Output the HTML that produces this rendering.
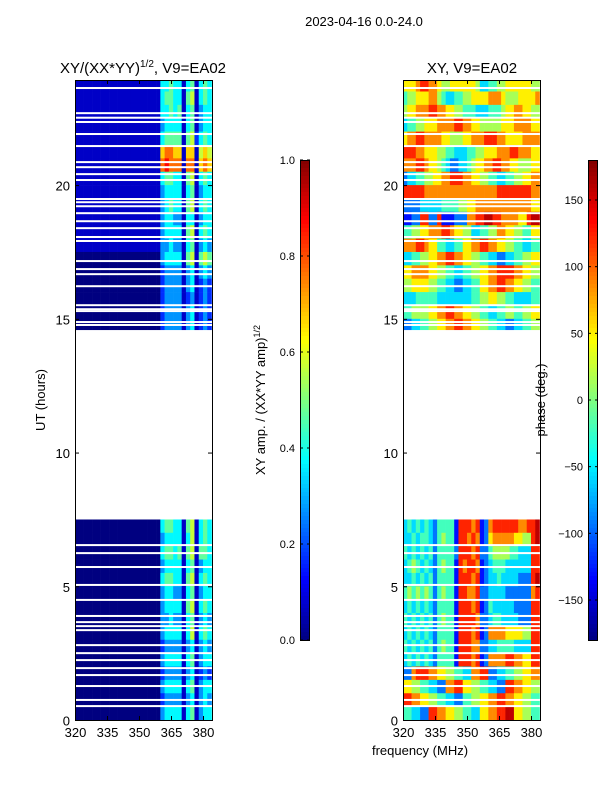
<!DOCTYPE html>
<html><head><meta charset="utf-8">
<style>
html,body{margin:0;padding:0;background:#fff;}
svg{display:block;font-family:"Liberation Sans",sans-serif;}
</style></head>
<body>
<svg id="fig" width="600" height="800" viewBox="0 0 600 800" xmlns="http://www.w3.org/2000/svg">
<g id="left"></g>
<g id="right"></g>
<g id="cb"></g>
<text x="364" y="26" font-size="13" text-anchor="middle">2023-04-16 0.0-24.0</text>
<text x="143" y="73" font-size="15" text-anchor="middle">XY/(XX*YY)<tspan font-size="10" dy="-6">1/2</tspan><tspan dy="6">, V9=EA02</tspan></text>
<text x="472" y="73" font-size="15" text-anchor="middle">XY, V9=EA02</text>
<text x="420" y="755" font-size="13" text-anchor="middle">frequency (MHz)</text>
<text transform="translate(45,400) rotate(-90)" font-size="13" text-anchor="middle">UT (hours)</text>
<text transform="translate(265,400) rotate(-90)" font-size="13" text-anchor="middle">XY amp. / (XX*YY amp)<tspan font-size="9" dy="-5">1/2</tspan></text>
<text transform="translate(545,400) rotate(-90)" font-size="13" text-anchor="middle">phase (deg.)</text>
</svg>
<script>
// ---- data ----
const freqStart = 320, freqStep = 2;
const xTicks = [320, 335, 350, 365, 380];
const yTicks = [0, 5, 10, 15, 20];
const ampTicks = [0.0, 0.2, 0.4, 0.6, 0.8, 1.0];
const phaseTicks = [-150, -100, -50, 0, 50, 100, 150];
const rowStep = 0.5;
const upperStart = 24.0;
const lowerStart = 7.5;
const ampUpper = [
"11111111111111111111445441451454",
"11111111111111111111455441561454",
"11111111111111111111445451451344",
"11111111111111111111344441451344",
"11111111111111111111455551562454",
"11111111111111111111788771771676",
"11111111111111111111898881881787",
"11111111111111111111455441561454",
"11111111111111111111344441451344",
"11111111111111111111345441561454",
"11111111111111111111344331441344",
"11111111111111111111344441561454",
"11111111111111111111334331451343",
"00000000000000000000344441561565",
"00000000000000000000233331341343",
"00000000000000000000233331341232",
"00000000000000000000233331231232",
"00000000000000000000233331341232",
"00000000000000000000233331341232"];
const ampLower = [
"00000000000000000000455441561454",
"00000000000000000000344441461454",
"00000000000000000000455451561554",
"00000000000000000000344441451344",
"00000000000000000000455441561454",
"00000000000000000000344331451344",
"00000000000000000000344441561454",
"00000000000000000000334331451343",
"00000000000000000000344441461454",
"00000000000000000000233331341343",
"00000000000000000000344441451344",
"00000000000000000000233331341232",
"00000000000000000000344441451344",
"00000000000000000000233331341343",
"00000000000000000000344441451344"];
const phaseUpper = [
"66678877655666666533445566666655",
"45566677543344556666777655566667",
"56677788776655444333444566776655",
"34455666777788776655555666777766",
"67788777766555667778887766667777",
"88877666554433344556667778877766",
"77788766543223345667788776655566",
"23344556677888776655443344556677",
"88888777777777777777778888888877",
"22223333344445566777777777777766",
"11228822811122277889988777766899",
"44556677788766553344557766554466",
"77788766443344667788776655443344",
"33445566778877665544332233445566",
"66777766554433445566778888776655",
"55666655443322334466778877665544",
"33344444333333334455665544333344",
"44555566778877665544334455445566",
"22334455667788776655443322334455"];
const phaseLower = [
"34343432444418887812788888877889",
"33434432454418878712677777665589",
"43434342444428887822455554433388",
"34543432454418788712344433333388",
"33434342444418887812334333322289",
"45454542454418877822333322222278",
"34343432444418887812433333222288",
"43434342454418888722344333322288",
"34343432444418887812777766665588",
"43434342454418887722334444333388",
"34343432444418887812777788776688",
"22788877665544337788223344556677",
"66554433227788665544332288776655",
"88776655443322445566778877665544",
"44332288776655443366778899665544"];
const flaggedHours = [23.63,22.69,22.52,22.36,21.91,21.46,20.86,20.67,20.41,20.19,19.48,19.36,19.21,18.95,18.65,18.39,18.06,17.91,17.16,16.86,16.67,16.22,15.51,15.36,15.29,14.88,14.77,
6.54,6.24,5.72,5.05,4.49,3.89,3.66,3.51,3.36,2.80,2.50,2.24,1.94,1.68,1.27,0.75,0.52];

// ---- scales ----
const NS = "http://www.w3.org/2000/svg";
const yTop = 80, yBot = 720, hrMax = 23.93;
function yS(h){ return yBot - h * (yBot - yTop) / hrMax; }
function xS(f, x0){ return x0 + (f - 320) * 32 / 15; }
const fMax = 320 + 137 * 15 / 32;
function clamp(v){ return Math.max(0, Math.min(1, v)); }
function jet(v){
  const r = clamp(1.5 - Math.abs(4*v - 3)), g = clamp(1.5 - Math.abs(4*v - 2)), b = clamp(1.5 - Math.abs(4*v - 1));
  return "rgb(" + Math.round(r*255) + "," + Math.round(g*255) + "," + Math.round(b*255) + ")";
}
function mk(tag, attrs, parent){
  const e = document.createElementNS(NS, tag);
  for (const k in attrs) e.setAttribute(k, attrs[k]);
  parent.appendChild(e);
  return e;
}

function drawPanel(g, x0, upper, lower, toVal){
  function block(rows, start){
    rows.forEach((row, ri) => {
      const hTop = start - ri * rowStep, hB = hTop - rowStep;
      for (let ci = 0; ci < row.length; ci++){
        const f0 = freqStart + ci * freqStep;
        const f1 = Math.min(f0 + freqStep, fMax);
        const x = xS(f0, x0), w = xS(f1, x0) - x;
        const yt = Math.max(yS(hTop), yTop);
        const c = mk("rect", {x: x, y: yt, width: w + 0.3, height: yS(hB) - yt + 0.3, fill: jet(toVal(+row[ci]))}, g);
        
        
      }
    });
  }
  block(upper, upperStart);
  block(lower, lowerStart);
  flaggedHours.forEach(h => {
    const l = mk("rect", {x: x0, y: yS(h) - 1, width: 137, height: 2, fill: "#fff"}, g);
    
    
  });
  const gap = mk("rect", {x: x0, y: yS(14.58), width: 137, height: yS(lowerStart) - yS(14.58), fill: "#fff"}, g);
  
  
  const fr = mk("rect", {x: x0 + 0.5, y: yTop + 0.5, width: 137, height: 640, fill: "none", stroke: "#000", "stroke-width": 1}, g);
  
  
  xTicks.forEach(t => {
    const x = xS(t, x0) + 0.5;
    mk("line", {x1: x, x2: x, y1: yBot, y2: yBot - 4, stroke: "#000"}, g);
    mk("line", {x1: x, x2: x, y1: yTop, y2: yTop + 4, stroke: "#000"}, g);
    const tx = mk("text", {x: x, y: yBot + 17, "font-size": 13, "text-anchor": "middle"}, g);
    tx.textContent = t;
    
    
  });
  yTicks.forEach(t => {
    const y = yS(t) + 0.5;
    mk("line", {x1: x0, x2: x0 + 4, y1: y, y2: y, stroke: "#000"}, g);
    mk("line", {x1: x0 + 137, x2: x0 + 133, y1: y, y2: y, stroke: "#000"}, g);
    const tx = mk("text", {x: x0 - 5, y: y + 5, "font-size": 13, "text-anchor": "end"}, g);
    tx.textContent = t;
    
    
  });
}
drawPanel(document.getElementById("left"), 75, ampUpper, ampLower, d => Math.max(0, d / 10 - 0.03));
drawPanel(document.getElementById("right"), 403, phaseUpper, phaseLower, d => d / 10 + 0.04);

const cb = document.getElementById("cb");
function colorbar(x, lo, hi, ticks, name){
  const n = 120;
  for (let i = 0; i < n; i++){
    const r = mk("rect", {x: x, y: 160 + i * 4, width: 10, height: 4.3, fill: jet(1 - (i + 0.5) / n)}, cb);
    
    
  }
  mk("rect", {x: x + 0.5, y: 160.5, width: 9, height: 480, fill: "none", stroke: "#000"}, cb);
  ticks.forEach(t => {
    const y = 640 - (t - lo) / (hi - lo) * 480;
    mk("line", {x1: x, x2: x + 3, y1: y, y2: y, stroke: "#000"}, cb);
    mk("line", {x1: x + 10, x2: x + 7, y1: y, y2: y, stroke: "#000"}, cb);
    const tx = mk("text", {x: x - 5, y: y + 4, "font-size": 11, "text-anchor": "end"}, cb);
    tx.textContent = (Math.abs(hi) <= 1) ? t.toFixed(1) : (t < 0 ? "\u2212" + (-t) : t);
    
    
  });
}
colorbar(300, 0, 1, ampTicks, 'amp-colorbar');
colorbar(588, -180, 180, phaseTicks, 'phase-colorbar');
</script>
</body></html>
